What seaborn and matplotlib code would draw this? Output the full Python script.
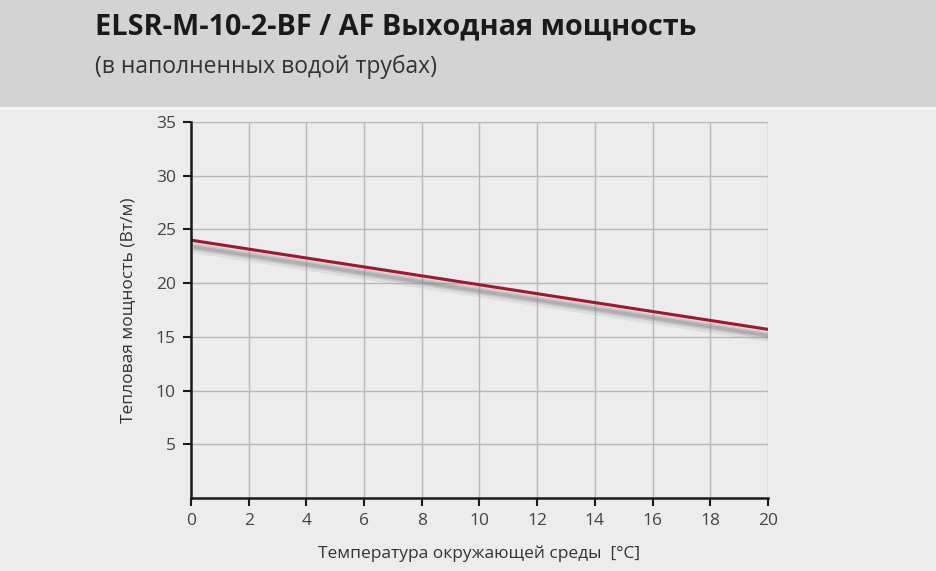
import matplotlib
matplotlib.use("Agg")
import matplotlib.pyplot as plt
import matplotlib.patheffects as pe
from matplotlib.patches import Rectangle
import seaborn as sns
import pandas as pd

# Data
temps = [0, 10, 20]
power = [24.0, 19.85, 15.7]
x_ticks = [0, 2, 4, 6, 8, 10, 12, 14, 16, 18, 20]
y_ticks = [5, 10, 15, 20, 25, 30, 35]
title = "ELSR-M-10-2-BF / AF Выходная мощность"
subtitle = "(в наполненных водой трубах)"
xlabel = "Температура окружающей среды  [°C]"
ylabel = "Тепловая мощность (Вт/м)"

sns.set_theme(style="white")
plt.rcParams['font.family'] = ['Open Sans', 'DejaVu Sans']

W, H = 937, 571
fig = plt.figure(figsize=(W / 100, H / 100), dpi=100)
fig.patch.set_facecolor("#ececec")

# Header band
fig.patches.append(Rectangle((0, 1 - 107 / H), 1, 107 / H, transform=fig.transFigure,
                             facecolor="#d3d3d3", edgecolor="none", zorder=0))
fig.patches.append(Rectangle((0, 1 - 110 / H), 1, 3 / H, transform=fig.transFigure,
                             facecolor="#f4f4f4", edgecolor="none", zorder=0))
fig.text(95 / W, 1 - 27 / H, title, fontsize=20.8, fontweight="bold", color="#1a1a1a",
         va="center", ha="left")
fig.text(95 / W, 1 - 67 / H, subtitle, fontsize=16.5, color="#333333",
         va="center", ha="left")

ax = fig.add_axes([191 / W, (H - 498) / H, (768 - 191) / W, (498 - 122) / H])
ax.set_facecolor("#ececec")

df = pd.DataFrame({"t": temps, "p": power})
sns.lineplot(data=df, x="t", y="p", ax=ax, color="#a3172b", linewidth=2.2,
             path_effects=[pe.SimpleLineShadow(offset=(3, -5), shadow_color="#999999", alpha=0.18, linewidth=9),
                           pe.SimpleLineShadow(offset=(3, -5), shadow_color="#888888", alpha=0.25, linewidth=5),
                           pe.SimpleLineShadow(offset=(3, -5), shadow_color="#777777", alpha=0.3, linewidth=2.5),
                           pe.Normal()])

ax.set_xlim(0, 20)
ax.set_ylim(0, 35)
ax.set_xticks(x_ticks)
ax.set_yticks(y_ticks)
ax.set_xticklabels([str(v) for v in x_ticks])
ax.set_yticklabels([str(v) for v in y_ticks])
ax.grid(True, color="#b8b8b8", linewidth=1)
ax.set_axisbelow(True)
for s in ["top", "right"]:
    ax.spines[s].set_visible(False)
for s in ["left", "bottom"]:
    ax.spines[s].set_color("#1a1a1a")
    ax.spines[s].set_linewidth(1.8)
ax.tick_params(axis="both", which="both", direction="out", length=6, width=1.5,
               color="#1a1a1a", labelsize=12.5, labelcolor="#444444", pad=5,
               bottom=True, left=True)
ax.set_xlabel(xlabel, fontsize=12.5, color="#333333", labelpad=12)
ax.set_ylabel(ylabel, fontsize=12.5, color="#333333", labelpad=14)

fig.savefig("out.png", dpi=100, facecolor=fig.get_facecolor())
